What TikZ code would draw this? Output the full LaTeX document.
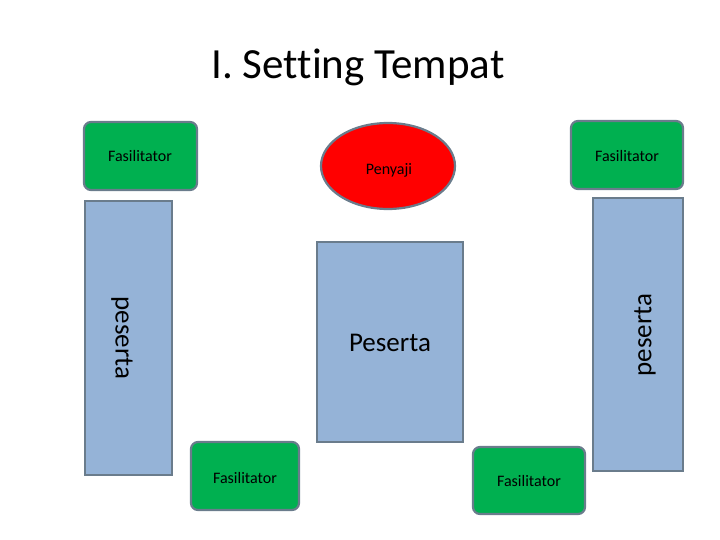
\documentclass[tikz,border=0pt]{standalone}
\usepackage{fontspec}
\setmainfont[Ligatures=CommonOff]{Carlito}
\definecolor{fasgreen}{HTML}{00B050}
\definecolor{pesblue}{HTML}{95B3D7}
\definecolor{rimgray}{HTML}{6A7C8C}
\begin{document}
\begin{tikzpicture}[x=1pt, y=-1pt,
  fas/.style={draw=rimgray, line width=2.2pt, fill=fasgreen, rounded corners=7pt},
  pes/.style={draw=rimgray, line width=2.2pt, fill=pesblue},
  lbl/.style={font=\fontsize{16}{19}\selectfont}]

\useasboundingbox (0,0) rectangle (720,540);

\node (title) at (358,67) {\fontsize{43}{48}\selectfont I. Setting Tempat};

% meja samping
\draw[pes] (85,201) rectangle (172,475);
\draw[pes] (593,198) rectangle (683,471);
\node[rotate=-90] (pesL) at (122,338) {\fontsize{27}{32}\selectfont peserta};
\node[rotate=90] (pesR) at (645,335) {\fontsize{27}{32}\selectfont peserta};

% meja tengah
\draw[pes] (317,242) rectangle (463,442);
\node (pesC) at (390,343) {\fontsize{27}{32}\selectfont Peserta};

% penyaji
\draw[draw=rimgray, line width=2.2pt, fill=red] (388,166) ellipse (67 and 43);
\node[lbl] (penyaji) at (389,170) {Penyaji};

% fasilitator
\draw[fas] (84,122) rectangle (197,190);
\node[lbl] (fas1) at (140,156) {Fasilitator};
\draw[fas] (571,121) rectangle (683,189);
\node[lbl] (fas2) at (627,156) {Fasilitator};
\draw[fas] (191,442) rectangle (299,510);
\node[lbl] (fas3) at (245,478) {Fasilitator};
\draw[fas] (473,447) rectangle (585,514);
\node[lbl] (fas4) at (529,481) {Fasilitator};

\end{tikzpicture}
\end{document}
